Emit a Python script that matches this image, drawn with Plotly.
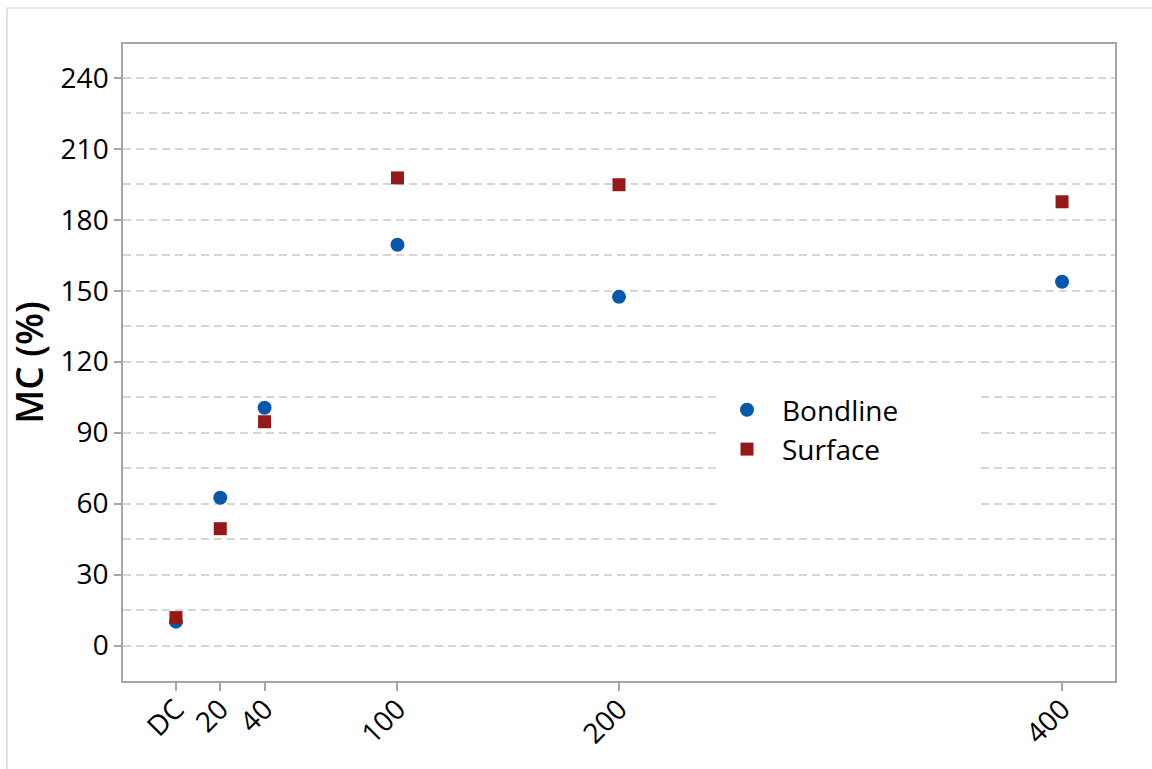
import plotly.graph_objects as go

# Moisture content by treatment level
x_levels = [0, 20, 40, 100, 200, 400]
x_labels = ["DC", "20", "40", "100", "200", "400"]
bondline_mc = [10.1, 62.5, 100.5, 169.4, 147.4, 153.8]
surface_mc = [11.8, 49.4, 94.6, 197.7, 194.8, 187.6]

blue = "#0757AC"
red = "#971818"
axis_col = "#A6A6A6"
grid_col = "#D6D6D6"
font_family = "Open Sans, Noto Sans, DejaVu Sans, sans-serif"

fig = go.Figure()
fig.add_trace(go.Scatter(
    x=x_levels, y=bondline_mc, mode="markers", name="Bondline",
    marker=dict(symbol="circle", size=14, color=blue),
))
fig.add_trace(go.Scatter(
    x=x_levels, y=surface_mc, mode="markers", name="Surface",
    marker=dict(symbol="square", size=13, color=red),
))

W, H = 1152, 769
ml, mr, mt, mb = 123, 37, 44, 88
pw, ph = W - ml - mr, H - mt - mb

def px_to_paper_x(px):
    return (px - ml) / pw

def px_to_paper_y(py):
    return (H - mb - py) / ph

# outer frame around the whole figure
fig.add_shape(type="rect", xref="paper", yref="paper",
              x0=px_to_paper_x(7), x1=px_to_paper_x(1170),
              y0=px_to_paper_y(790), y1=px_to_paper_y(8),
              line=dict(color="#D0D0D0", width=1.2), fillcolor="rgba(0,0,0,0)",
              layer="below")
# legend backdrop hiding the grid behind it
fig.add_shape(type="rect", xref="paper", yref="paper",
              x0=px_to_paper_x(718), x1=px_to_paper_x(980),
              y0=px_to_paper_y(512), y1=px_to_paper_y(380),
              line=dict(width=0), fillcolor="white", layer="above")

tick_font = dict(size=28, weight=500, family=font_family)

fig.update_layout(
    width=W, height=H,
    margin=dict(l=ml, r=mr, t=mt, b=mb),
    paper_bgcolor="white", plot_bgcolor="white",
    font=dict(family=font_family, color="black", size=28),
    showlegend=True,
    legend=dict(
        x=px_to_paper_x(712), y=px_to_paper_y(385),
        xanchor="left", yanchor="top",
        bgcolor="rgba(255,255,255,0)", borderwidth=0,
        font=tick_font,
        tracegroupgap=0, itemwidth=60,
    ),
    xaxis=dict(
        range=[-23.9, 423.9],
        tickmode="array", tickvals=x_levels, ticktext=x_labels,
        tickangle=-45, tickfont=tick_font, ticklabelstandoff=-9,
        ticks="outside", ticklen=8, tickcolor=axis_col, tickwidth=1.5,
        showline=True, linecolor=axis_col, linewidth=1.5, mirror=True,
        showgrid=False, zeroline=False, automargin=False,
    ),
    yaxis=dict(
        range=[-15.0, 254.3],
        tickmode="linear", tick0=0, dtick=30,
        tickfont=tick_font,
        ticks="outside", ticklen=7, tickcolor=axis_col, tickwidth=1.5,
        showline=True, linecolor=axis_col, linewidth=1.5, mirror=True,
        showgrid=True, gridcolor=grid_col, gridwidth=1.5, griddash="8px,5px",
        minor=dict(dtick=15, showgrid=True, gridcolor=grid_col,
                   gridwidth=1.5, griddash="8px,5px", ticks=""),
        zeroline=False, automargin=False,
        title=dict(text="MC (%)", font=dict(size=37, weight=600), standoff=6),
    ),
)

fig.write_html("out.html")
